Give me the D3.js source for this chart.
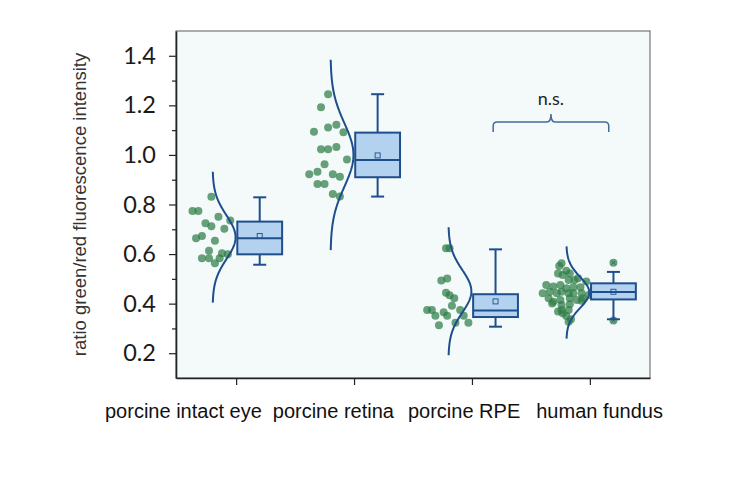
<!DOCTYPE html>
<html>
<head>
<meta charset="utf-8">
<script src="https://cdn.jsdelivr.net/npm/d3@7"></script>
<style>
  body { margin: 0; background: #fff; }
  svg { display: block; }
</style>
</head>
<body>
<div id="chart"></div>
<script>
var w = 741;
var h = 479;

var categories = ["porcine intact eye", "porcine retina", "porcine RPE", "human fundus"];

var eyeValues    = [0.831, 0.774, 0.774, 0.751, 0.735, 0.724, 0.712, 0.702, 0.673, 0.664, 0.654, 0.613, 0.603, 0.599, 0.583, 0.583, 0.583, 0.563];
var eyeJitter    = [-0.21, -0.37, -0.32, -0.15, -0.05, -0.26, -0.21, -0.10, -0.29, -0.34, -0.18, -0.23, -0.12, -0.07, -0.29, -0.23, -0.14, -0.18];
var retinaValues = [1.245, 1.192, 1.094, 1.111, 1.122, 1.091, 1.023, 1.023, 1.032, 0.982, 0.962, 0.932, 0.922, 0.922, 0.912, 0.883, 0.883, 0.842, 0.832];
var retinaJitter = [-0.22, -0.28, -0.34, -0.22, -0.15, -0.09, -0.28, -0.22, -0.15, -0.06, -0.25, -0.31, -0.38, -0.18, -0.12, -0.31, -0.25, -0.18, -0.12];
var rpeValues    = [0.623, 0.623, 0.493, 0.501, 0.444, 0.434, 0.422, 0.392, 0.374, 0.374, 0.351, 0.365, 0.351, 0.374, 0.351, 0.313, 0.323, 0.323];
var rpeJitter    = [-0.22, -0.19, -0.26, -0.21, -0.22, -0.19, -0.15, -0.17, -0.38, -0.34, -0.31, -0.24, -0.21, -0.10, -0.07, -0.28, -0.14, -0.03];
var fundusValues = [0.563, 0.552, 0.533, 0.522, 0.522, 0.516, 0.495, 0.495, 0.502, 0.489, 0.475, 0.469, 0.475, 0.462, 0.466, 0.466,
                    0.442, 0.448, 0.442, 0.448, 0.442, 0.442, 0.442, 0.435, 0.422, 0.408, 0.415, 0.422, 0.415, 0.422,
                    0.401, 0.395, 0.398, 0.412, 0.368, 0.374, 0.374, 0.361, 0.350, 0.337, 0.327];
var fundusJitter = [-0.24, -0.26, -0.20, -0.17, -0.27, -0.23, -0.18, -0.13, -0.10, -0.03, -0.37, -0.31, -0.25, -0.20, -0.14, -0.08,
                    -0.40, -0.34, -0.28, -0.24, -0.18, -0.14, -0.07, -0.01, -0.35, -0.31, -0.25, -0.17, -0.11, -0.06,
                    -0.32, -0.24, -0.17, -0.07, -0.27, -0.24, -0.18, -0.23, -0.20, -0.16, -0.18];
var fundusOutliers = [0.565, 0.332];

// box statistics
var whiskerLo = [0.557, 0.832, 0.307, 0.337];
var q1        = [0.599, 0.910, 0.346, 0.417];
var median    = [0.664, 0.980, 0.372, 0.447];
var q3        = [0.731, 1.090, 0.438, 0.482];
var whiskerHi = [0.829, 1.245, 0.619, 0.528];
var means     = [0.673, 0.998, 0.409, 0.448];

// normal curve parameters
var curveMean = [0.668, 1.000, 0.450, 0.445];
var curveSd   = [0.088, 0.128, 0.086, 0.062];

var yTicks = [0.2, 0.4, 0.6, 0.8, 1.0, 1.2, 1.4];
var yMinor = [0.3, 0.5, 0.7, 0.9, 1.1, 1.3];

var groups = [
  {values: eyeValues, jitter: eyeJitter},
  {values: retinaValues, jitter: retinaJitter},
  {values: rpeValues, jitter: rpeJitter},
  {values: fundusValues, jitter: fundusJitter}
];

var dark = "#1f4e8c";
var boxFill = "#b3d2f0";
var dotFill = "#2e7d46";

var xScale = d3.scaleLinear().domain([0.49, 4.51]).range([176, 650]);
var yScale = d3.scaleLinear().domain([0.1, 1.5]).range([378, 31]);
var u = xScale(1) - xScale(0);

var svg = d3.select("#chart").append("svg")
  .attr("width", w)
  .attr("height", h);

// plot background + frame
svg.append("rect")
  .attr("x", xScale(0.49))
  .attr("y", yScale(1.5))
  .attr("width", xScale(4.51) - xScale(0.49))
  .attr("height", yScale(0.1) - yScale(1.5))
  .attr("fill", "#f4fafa")
  .attr("stroke", "#5a5a5a")
  .attr("stroke-width", 1);

// dots
groups.forEach(function(g, i) {
  svg.append("g").selectAll("circle")
    .data(g.values)
    .enter().append("circle")
    .attr("cx", function(d, j) { return xScale(i + 1 + g.jitter[j]); })
    .attr("cy", function(d) { return yScale(d); })
    .attr("r", 4)
    .attr("fill", dotFill)
    .attr("fill-opacity", 0.72);
});

// outlier points of human fundus
svg.append("g").selectAll("circle")
  .data(fundusOutliers)
  .enter().append("circle")
  .attr("cx", xScale(4 + 0.2))
  .attr("cy", function(d) { return yScale(d); })
  .attr("r", 4)
  .attr("fill", dotFill)
  .attr("fill-opacity", 0.72);
svg.append("g").selectAll("path")
  .data(fundusOutliers)
  .enter().append("path")
  .attr("d", function(d) {
    var cx = xScale(4 + 0.2), cy = yScale(d), s = 2;
    return "M" + (cx - s) + "," + (cy - s) + "L" + (cx + s) + "," + (cy + s) +
           "M" + (cx - s) + "," + (cy + s) + "L" + (cx + s) + "," + (cy - s);
  })
  .attr("stroke", dark)
  .attr("stroke-opacity", 0.7)
  .attr("stroke-width", 1);

// half normal curves
var curve = d3.line().x(function(p) { return p[0]; }).y(function(p) { return p[1]; });
categories.forEach(function(c, i) {
  var m = curveMean[i], s = curveSd[i];
  var pts = d3.range(-3, 3.001, 0.05).map(function(z) {
    return [xScale(i + 1 - 0.2 + 0.195 * Math.exp(-z * z / 2)), yScale(m + z * s)];
  });
  svg.append("path")
    .attr("d", curve(pts))
    .attr("fill", "none")
    .attr("stroke", dark)
    .attr("stroke-width", 2);
});

// box plots
var box = svg.append("g").selectAll("g")
  .data(categories)
  .enter().append("g");

box.append("line")
  .attr("x1", function(d, i) { return xScale(i + 1.2); })
  .attr("x2", function(d, i) { return xScale(i + 1.2); })
  .attr("y1", function(d, i) { return yScale(whiskerLo[i]); })
  .attr("y2", function(d, i) { return yScale(whiskerHi[i]); })
  .attr("stroke", dark).attr("stroke-width", 2);

[whiskerLo, whiskerHi].forEach(function(arr) {
  box.append("line")
    .attr("x1", function(d, i) { return xScale(i + 1.2) - 6.5; })
    .attr("x2", function(d, i) { return xScale(i + 1.2) + 6.5; })
    .attr("y1", function(d, i) { return yScale(arr[i]); })
    .attr("y2", function(d, i) { return yScale(arr[i]); })
    .attr("stroke", dark).attr("stroke-width", 2);
});

box.append("rect")
  .attr("x", function(d, i) { return xScale(i + 1.01); })
  .attr("width", 0.38 * u)
  .attr("y", function(d, i) { return yScale(q3[i]); })
  .attr("height", function(d, i) { return yScale(q1[i]) - yScale(q3[i]); })
  .attr("fill", boxFill)
  .attr("stroke", dark)
  .attr("stroke-width", 2);

box.append("line")
  .attr("x1", function(d, i) { return xScale(i + 1.01); })
  .attr("x2", function(d, i) { return xScale(i + 1.39); })
  .attr("y1", function(d, i) { return yScale(median[i]); })
  .attr("y2", function(d, i) { return yScale(median[i]); })
  .attr("stroke", dark).attr("stroke-width", 2);

box.append("rect")
  .attr("x", function(d, i) { return xScale(i + 1.2) - 2.5; })
  .attr("y", function(d, i) { return yScale(means[i]) - 2.5; })
  .attr("width", 5).attr("height", 5)
  .attr("fill", "none")
  .attr("stroke", dark)
  .attr("stroke-width", 0.9);

// y axis
var yAxis = d3.axisLeft(yScale).tickValues(yTicks).tickSize(7).tickSizeOuter(0)
  .tickFormat(d3.format(".1f"));
var gy = svg.append("g")
  .attr("transform", "translate(" + xScale(0.49) + ",0)")
  .call(yAxis);
gy.select(".domain").attr("stroke", "#222").attr("stroke-width", 1.6);
gy.selectAll(".tick line").attr("stroke", "#222").attr("stroke-width", 1.2);
gy.selectAll(".tick text")
  .attr("x", -20)
  .attr("fill", "#1a1a1a")
  .style("font-family", "Lato, 'Open Sans', sans-serif")
  .style("font-size", "23.5px");

svg.append("g")
  .attr("transform", "translate(" + xScale(0.49) + ",0)")
  .call(d3.axisLeft(yScale).tickValues(yMinor).tickSize(4).tickFormat(""))
  .call(function(g) {
    g.select(".domain").remove();
    g.selectAll(".tick line").attr("stroke", "#222").attr("stroke-width", 1.2);
  });

// x axis
var xAxis = d3.axisBottom(xScale).tickValues([1, 2, 3, 4]).tickSize(7).tickSizeOuter(0).tickFormat("");
var gx = svg.append("g")
  .attr("transform", "translate(0," + yScale(0.1) + ")")
  .call(xAxis);
gx.select(".domain").attr("stroke", "#222").attr("stroke-width", 1.6);
gx.selectAll(".tick line").attr("stroke", "#222").attr("stroke-width", 1.2);

// category labels
var labelGaps = [0, 11, 14, 16];
var lbl = svg.append("text")
  .attr("x", 105)
  .attr("y", 418)
  .attr("fill", "#111")
  .style("font-family", "'Liberation Sans', Arial, sans-serif")
  .style("font-size", "20px");
lbl.selectAll("tspan")
  .data(categories)
  .enter().append("tspan")
  .attr("dx", function(d, i) { return labelGaps[i]; })
  .text(function(d) { return d; });

// y title
svg.append("text")
  .attr("transform", "translate(86," + yScale(0.8) + ") rotate(-90)")
  .attr("text-anchor", "middle")
  .attr("fill", "#333")
  .style("font-family", "'Liberation Sans', Arial, sans-serif")
  .style("font-size", "18.5px")
  .text("ratio green/red fluorescence intensity");

// n.s. bracket between porcine RPE and human fundus
var bx1 = xScale(3 + 0.18), bx2 = xScale(4 + 0.16), bm = (bx1 + bx2) / 2;
var yb = yScale(1.093), yh = yScale(1.133), yp = yScale(1.165);
svg.append("path")
  .attr("d", "M" + bx1 + "," + yb + "L" + bx1 + "," + (yh + 4) +
             "Q" + bx1 + "," + yh + " " + (bx1 + 4) + "," + yh +
             "L" + (bm - 4) + "," + yh +
             "Q" + bm + "," + yh + " " + bm + "," + yp +
             "Q" + bm + "," + yh + " " + (bm + 4) + "," + yh +
             "L" + (bx2 - 4) + "," + yh +
             "Q" + bx2 + "," + yh + " " + bx2 + "," + (yh + 4) +
             "L" + bx2 + "," + yb)
  .attr("fill", "none")
  .attr("stroke", "#44699a")
  .attr("stroke-width", 1.5);

svg.append("text")
  .attr("x", bm)
  .attr("y", yScale(1.2))
  .attr("text-anchor", "middle")
  .attr("fill", "#222")
  .style("font-family", "Lato, 'Open Sans', sans-serif")
  .style("font-size", "18px")
  .text("n.s.");
</script>
</body>
</html>
